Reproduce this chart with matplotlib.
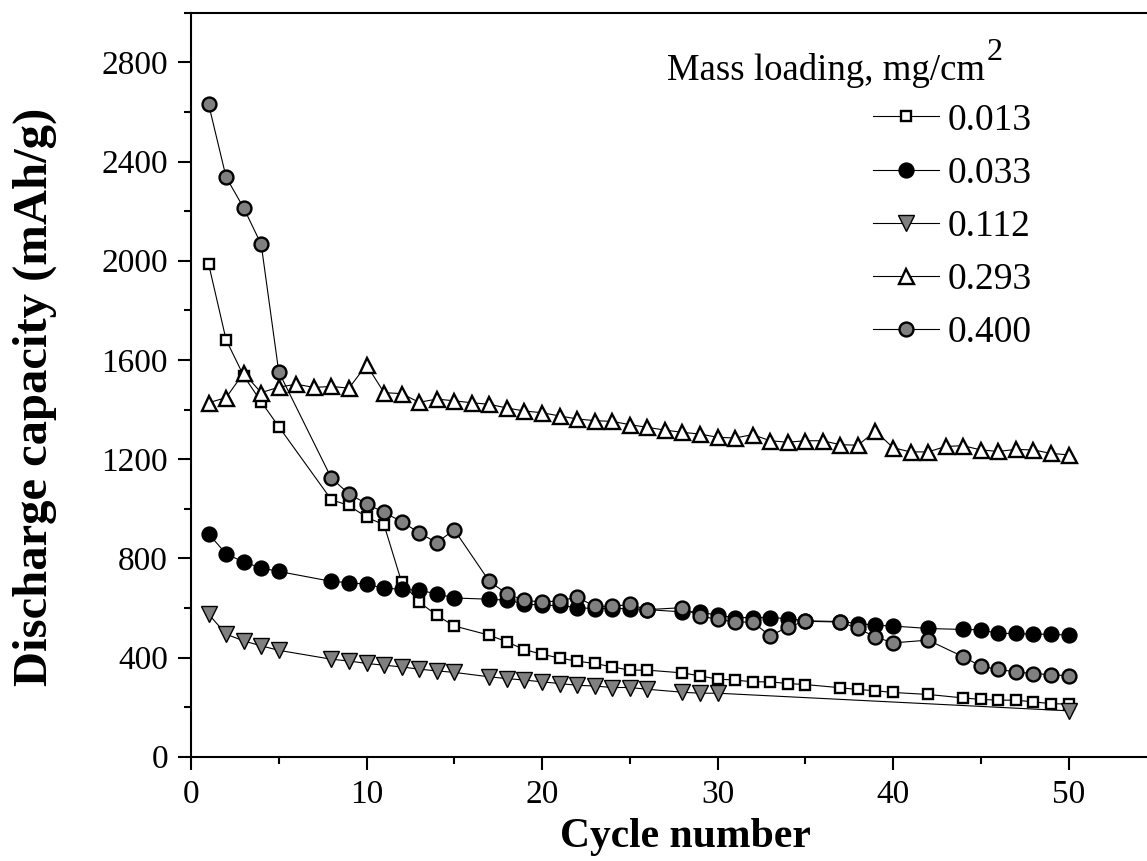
import matplotlib
matplotlib.use("Agg")

import numpy as np
import matplotlib.pyplot as plt
from matplotlib.ticker import MultipleLocator

plt.rcParams["font.family"] = ["Liberation Serif", "DejaVu Serif"]

# cycles shared by 0.013 / 0.033 / 0.400 series
cyc_a = [1, 2, 3, 4, 5, 8, 9, 10, 11, 12, 13, 14, 15,
         17, 18, 19, 20, 21, 22, 23, 24, 25, 26,
         28, 29, 30, 31, 32, 33, 34, 35, 37, 38, 39, 40, 42,
         44, 45, 46, 47, 48, 49, 50]
cap_013 = [1988, 1681, 1536, 1431, 1331, 1036, 1013, 966, 935, 704, 624, 570, 527,
           490, 463, 432, 413, 398, 385, 376, 362, 349, 349,
           338, 326, 313, 309, 302, 302, 295, 291, 278, 271, 266, 259, 251,
           237, 231, 228, 228, 221, 214, 212]
cap_033 = [899, 818, 785, 761, 747, 707, 702, 695, 680, 675, 671, 657, 640,
           635, 631, 617, 610, 610, 601, 597, 597, 597, 593,
           584, 584, 570, 561, 561, 561, 557, 548, 545, 537, 530, 527, 517,
           513, 512, 497, 497, 494, 494, 490]
cap_400 = [2632, 2337, 2213, 2066, 1552, 1123, 1060, 1020, 985, 948, 903, 863, 915,
           707, 657, 630, 624, 628, 644, 606, 606, 614, 593,
           601, 567, 554, 543, 543, 487, 523, 546, 543, 517, 483, 459, 470,
           403, 365, 352, 342, 335, 331, 326]

cyc_112 = [1, 2, 3, 4, 5, 8, 9, 10, 11, 12, 13, 14, 15,
           17, 18, 19, 20, 21, 22, 23, 24, 25, 26, 28, 29, 30, 50]
cap_112 = [575, 494, 467, 447, 429, 393, 386, 376, 369, 362, 353, 346, 340,
           322, 315, 309, 302, 295, 288, 285, 279, 279, 272, 260, 256, 256, 185]

cyc_293 = list(range(1, 51))
cap_293 = [1427, 1448, 1547, 1468, 1490, 1502, 1489, 1493, 1486, 1580,
           1468, 1464, 1429, 1442, 1435, 1427, 1421, 1406, 1394, 1387,
           1374, 1362, 1355, 1352, 1339, 1328, 1317, 1308, 1301, 1288,
           1285, 1299, 1274, 1268, 1274, 1274, 1258, 1256, 1313, 1246,
           1229, 1229, 1251, 1254, 1237, 1231, 1239, 1237, 1223, 1217]

labels = ["0.013", "0.033", "0.112", "0.293", "0.400"]
gray = "#808080"

fig = plt.figure(figsize=(11.47, 8.61), dpi=100)
ax = fig.add_axes([191 / 1147, 1 - 756.7 / 861, 1 - 191 / 1147, (756.7 - 12.7) / 861])

line_kw = dict(color="black", lw=0.8, markeredgecolor="black", markeredgewidth=1.7)
ax.plot(cyc_a, cap_013, marker="s", ms=7.8, mfc="white", label=labels[0], **line_kw)
ax.plot(cyc_a, cap_033, marker="o", ms=10, mfc="black", label=labels[1], **line_kw)
ax.plot(cyc_112, cap_112, marker="v", ms=11, mfc=gray, label=labels[2],
        color="black", lw=0.8, markeredgecolor="black", markeredgewidth=1.0)
ax.plot(cyc_293, cap_293, marker="^", ms=10.8, mfc="white", label=labels[3], **line_kw)
ax.plot(cyc_a, cap_400, marker="o", ms=10, mfc=gray, label=labels[4], **line_kw)

ax.set_xlim(0, (1147 - 191) / 17.55)
ax.set_ylim(0, 3000)
ax.xaxis.set_major_locator(MultipleLocator(10))
ax.xaxis.set_minor_locator(MultipleLocator(5))
ax.yaxis.set_major_locator(MultipleLocator(400))
ax.yaxis.set_minor_locator(MultipleLocator(200))
ax.set_yticks(np.arange(0, 2801, 400))
ax.tick_params(which="major", direction="out", length=9.5, width=1.5, labelsize=24, pad=7)
ax.tick_params(which="minor", direction="out", length=4.7, width=1.5)
ax.tick_params(top=False, right=False)
for s in ["left", "bottom", "top"]:
    ax.spines[s].set_linewidth(1.5)
ax.spines["right"].set_visible(False)

ax.set_xlabel("Cycle number", fontsize=30, fontweight="bold")
ax.set_ylabel("Discharge capacity (mAh/g)", fontsize=35, fontweight="bold")
ax.xaxis.set_label_coords(0.517, -0.083)
ax.yaxis.set_label_coords(-0.14, 0.4835)

title = ax.text(667 / 1147, 1 - 80 / 861, "Mass loading, mg/cm", transform=fig.transFigure,
                fontsize=26.5, ha="left", va="baseline")
ax.annotate("2", xy=(1.0, 1.0), xycoords=title, xytext=(1, 11), textcoords="offset points",
            fontsize=23, ha="left", va="top")

leg = ax.legend(loc="upper left", bbox_to_anchor=(873 / 1147, 1 - 103 / 861),
                bbox_transform=fig.transFigure, frameon=False, fontsize=27,
                handlelength=1.75, handletextpad=0.25, labelspacing=0.5,
                borderpad=0, borderaxespad=0)

fig.savefig("out.png", dpi=100)
